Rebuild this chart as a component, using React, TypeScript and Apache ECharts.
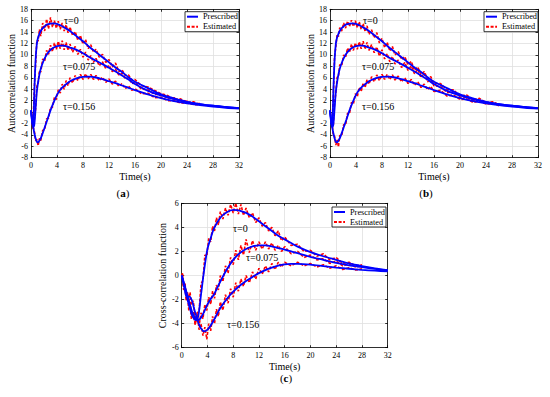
import React, { useEffect, useRef } from "react";
import * as echarts from "echarts";

const FONT = "Liberation Serif";

// ---------- Prescribed curves (a) & (b) ----------
const PT_AB = [0, 0.2, 0.35, 0.5, 0.7, 0.9, 1.1, 1.3, 1.5, 1.8, 2.1, 2.5, 3, 3.5, 4, 4.5, 5, 6, 7, 8, 9, 10, 11, 12, 13, 14, 15, 16, 18, 20, 22, 24, 26, 28, 30, 32];
const P_AB_0 = [0.3, -2.0, -2.6, 3.0, 9.0, 12.0, 13.1, 13.7, 14.2, 14.7, 15.0, 15.35, 15.5, 15.55, 15.45, 15.2, 14.9, 14.2, 13.3, 12.4, 11.4, 10.5, 9.6, 8.7, 7.8, 7.0, 6.1, 5.3, 4.2, 3.1, 2.4, 1.8, 1.4, 1.1, 0.9, 0.7];
const P_AB_075 = [0.3, -1.8, -2.6, -2.3, 0.5, 3.6, 5.3, 6.6, 7.6, 8.6, 9.4, 10.2, 10.9, 11.3, 11.55, 11.65, 11.65, 11.3, 10.9, 10.3, 9.6, 9.0, 8.4, 7.75, 7.1, 6.4, 5.7, 4.9, 3.7, 2.9, 2.25, 1.75, 1.4, 1.1, 0.85, 0.68];
const P_AB_156 = [0.3, -1.5, -2.7, -3.6, -4.6, -5.2, -5.3, -5.0, -4.6, -3.7, -2.7, -1.4, 0.3, 1.75, 3.0, 3.9, 4.5, 5.4, 5.9, 6.15, 6.2, 6.05, 5.75, 5.4, 5.05, 4.65, 4.25, 3.85, 3.1, 2.45, 1.9, 1.5, 1.2, 0.95, 0.75, 0.6];

// ---------- Estimated curves (a) & (b) ----------
const ET_AB = [0.1, 0.3, 0.5, 0.7, 0.9, 1.1, 1.3, 1.5, 1.8, 2.1, 2.4, 2.7, 3.0, 3.3, 3.6, 3.9, 4.2, 4.5, 4.8, 5.1, 5.4, 5.7, 6.0, 6.4, 6.8, 7.2, 7.6, 8.0, 8.4, 8.8, 9.2, 9.6, 10.0, 10.5, 11.0, 11.5, 12.0, 12.5, 13.0, 13.5, 14.0, 14.5, 15.0, 15.5, 16.0, 17, 18, 19, 20, 21, 22, 23, 24, 25, 26];
const E_A_0 = [-0.5, -2.8, 4.0, 8.2, 12.6, 12.4, 14.5, 13.3, 15.6, 14.2, 16.3, 14.6, 16.6, 14.9, 16.0, 14.7, 15.9, 14.5, 15.6, 14.2, 15.3, 13.9, 14.9, 13.4, 14.1, 12.6, 13.4, 11.9, 12.7, 11.1, 11.8, 10.5, 11.0, 9.6, 10.1, 8.7, 9.2, 7.9, 8.6, 7.1, 7.4, 6.4, 6.5, 5.6, 5.7, 4.6, 4.4, 3.8, 3.2, 2.9, 2.2, 2.3, 1.7, 1.8, 1.3];
const E_A_075 = [-0.4, -2.9, -1.5, 0.5, 4.5, 5.0, 7.3, 7.0, 9.3, 8.9, 10.8, 10.1, 11.7, 10.6, 12.1, 11.0, 12.4, 11.1, 12.5, 10.9, 12.2, 10.8, 11.9, 10.5, 11.5, 10.1, 11.0, 9.6, 10.5, 9.1, 9.9, 8.7, 9.4, 8.1, 8.8, 7.6, 8.2, 7.1, 7.5, 6.5, 6.8, 5.8, 6.0, 5.0, 5.2, 4.0, 3.9, 3.1, 3.1, 2.4, 2.5, 1.8, 1.9, 1.4, 1.5];
const E_A_156 = [-0.2, -2.7, -3.2, -5.0, -4.8, -5.9, -4.6, -5.0, -3.2, -3.1, -1.2, -1.1, 0.8, 0.8, 2.6, 2.2, 3.9, 3.3, 4.9, 4.0, 5.5, 4.6, 6.0, 5.1, 6.4, 5.5, 6.6, 5.7, 6.7, 5.8, 6.6, 5.7, 6.4, 5.5, 6.1, 5.2, 5.8, 4.9, 5.4, 4.5, 5.0, 4.1, 4.6, 3.8, 4.1, 3.2, 3.3, 2.5, 2.6, 2.0, 2.0, 1.6, 1.6, 1.3, 1.3];
const E_B_0 = [-1.3, -2.2, 2.4, 9.6, 11.5, 13.6, 13.2, 14.8, 14.2, 15.6, 14.7, 15.9, 15.0, 16.1, 15.0, 16.0, 14.8, 15.8, 14.5, 15.5, 14.1, 15.1, 13.6, 14.4, 13.0, 13.9, 12.1, 12.9, 11.3, 12.2, 10.7, 11.5, 10.0, 10.6, 9.2, 9.7, 8.3, 8.9, 7.3, 7.9, 6.6, 7.1, 5.8, 6.2, 5.0, 5.0, 3.9, 3.9, 2.8, 3.0, 2.1, 2.4, 1.6, 1.8, 1.3];
const E_B_075 = [-1.2, -2.2, -2.5, 1.6, 3.3, 6.1, 6.2, 8.3, 8.1, 10.0, 9.6, 11.2, 10.5, 11.9, 10.8, 12.1, 11.0, 12.3, 11.1, 12.4, 11.0, 12.2, 10.8, 11.8, 10.4, 11.4, 9.8, 10.9, 9.3, 10.2, 8.8, 9.7, 8.4, 9.1, 7.8, 8.7, 7.3, 8.1, 6.7, 7.5, 6.0, 6.8, 5.3, 5.8, 4.6, 4.5, 3.4, 3.6, 2.6, 2.6, 2.0, 2.1, 1.5, 1.6, 1.2];
const E_B_156 = [-1.0, -1.9, -4.0, -4.2, -5.8, -4.9, -6.1, -4.1, -4.2, -2.2, -2.3, -0.2, -0.3, 1.7, 1.4, 3.2, 2.7, 4.3, 3.6, 5.1, 4.3, 5.7, 4.9, 6.2, 5.3, 6.5, 5.5, 6.6, 5.7, 6.6, 5.7, 6.5, 5.6, 6.3, 5.3, 6.0, 5.0, 5.7, 4.7, 5.3, 4.3, 4.9, 3.9, 4.5, 3.6, 3.8, 2.8, 3.0, 2.2, 2.3, 1.7, 1.9, 1.4, 1.5, 1.1];

// ---------- Prescribed curves (c) ----------
const PT_C = [0, 0.4, 0.8, 1.2, 1.6, 2, 2.3, 2.6, 3, 3.5, 4, 4.5, 5, 6, 7, 8, 9, 10, 11, 12, 13, 14, 15, 16, 17, 18, 20, 22, 24, 26, 28, 30, 32];
const P_C_0 = [0, -0.8, -1.8, -2.6, -3.3, -3.65, -3.7, -3.3, -1.6, 0.5, 2.2, 3.1, 3.9, 4.8, 5.25, 5.45, 5.4, 5.2, 4.9, 4.5, 4.1, 3.7, 3.3, 3.0, 2.7, 2.4, 1.95, 1.6, 1.3, 1.0, 0.78, 0.6, 0.45];
const P_C_075 = [0, -0.7, -1.5, -2.3, -3.0, -3.45, -3.65, -3.7, -3.5, -3.0, -2.4, -1.95, -1.6, -0.5, 0.5, 1.3, 1.85, 2.2, 2.42, 2.5, 2.5, 2.42, 2.28, 2.15, 2.0, 1.85, 1.55, 1.3, 1.05, 0.85, 0.7, 0.55, 0.42];
const P_C_156 = [0, -1.0, -1.8, -1.75, -2.1, -2.9, -3.4, -3.95, -4.4, -4.65, -4.5, -4.15, -3.7, -2.7, -1.95, -1.35, -0.85, -0.45, -0.12, 0.2, 0.45, 0.65, 0.82, 0.92, 0.96, 0.96, 0.9, 0.78, 0.66, 0.56, 0.47, 0.4, 0.34];

// ---------- Estimated curves (c) ----------
const ET_C = [0.1, 0.3, 0.5, 0.7, 0.9, 1.1, 1.3, 1.5, 1.8, 2.1, 2.4, 2.7, 3.0, 3.3, 3.6, 3.9, 4.2, 4.5, 4.8, 5.1, 5.4, 5.7, 6.0, 6.4, 6.8, 7.2, 7.6, 8.0, 8.4, 8.8, 9.2, 9.6, 10.0, 10.5, 11.0, 11.5, 12.0, 12.5, 13.0, 13.5, 14.0, 14.5, 15.0, 15.5, 16.0, 17, 18, 19, 20, 21, 22, 23, 24, 25, 26, 27, 28];
const E_C_0 = [0.1, -0.9, -0.7, -1.9, -1.6, -2.9, -2.3, -3.6, -3.1, -4.1, -3.1, -3.0, -0.7, -0.4, 1.7, 1.6, 3.1, 2.8, 4.1, 3.7, 4.8, 4.2, 5.3, 4.7, 5.6, 5.0, 5.9, 5.2, 6.0, 5.1, 5.9, 5.0, 5.6, 4.8, 5.2, 4.4, 4.8, 4.1, 4.4, 3.7, 4.0, 3.3, 3.7, 2.9, 3.2, 2.5, 2.6, 2.0, 2.1, 1.6, 1.8, 1.3, 1.5, 1.0, 1.1, 0.8, 0.9];
const E_C_075 = [0.2, -0.9, -0.6, -1.7, -1.4, -2.5, -2.2, -3.3, -3.0, -4.0, -3.4, -4.2, -3.1, -3.6, -2.4, -2.9, -1.8, -2.4, -1.3, -1.9, -0.8, -1.2, 0.0, -0.5, 0.8, 0.2, 1.5, 0.9, 2.1, 1.3, 2.5, 1.7, 3.0, 1.9, 2.9, 2.1, 2.8, 2.2, 2.8, 2.2, 2.7, 2.1, 2.5, 2.0, 2.4, 1.8, 2.0, 1.5, 1.7, 1.3, 1.4, 1.0, 1.2, 0.8, 0.95, 0.7, 0.8];
const E_C_156 = [0.1, -1.2, -0.8, -2.1, -1.4, -2.2, -1.4, -2.4, -2.1, -3.5, -3.2, -4.5, -4.0, -5.0, -4.3, -5.3, -4.0, -4.6, -3.4, -4.0, -2.8, -3.4, -2.2, -2.9, -1.6, -2.3, -1.1, -1.8, -0.6, -1.3, -0.3, -0.9, 0.0, -0.6, 0.3, -0.3, 0.6, 0.1, 0.8, 0.3, 1.0, 0.5, 1.1, 0.7, 1.1, 0.8, 1.1, 0.8, 1.0, 0.7, 0.9, 0.6, 0.8, 0.5, 0.65, 0.45, 0.55];

const X_TICKS = { min: 0, max: 32, interval: 4 };
const Y_AB = { min: -8, max: 18, interval: 2 };
const Y_C = { min: -6, max: 6, interval: 2 };

const TAU_LABELS = ["τ=0", "τ=0.075", "τ=0.156"];
const PANEL_LABELS = ["a", "b", "c"];

const zip = (ts: number[], vs: number[]) => ts.map((t, i) => [t, vs[i]]);

const GRIDS = [
  { left: 31, top: 9.3, width: 208, height: 148.4 },
  { left: 330, top: 9.3, width: 208, height: 148.4 },
  { left: 181.7, top: 203.3, width: 206, height: 144.4 },
];

function buildOption() {
  const lineCol = "#000";
  const axisBase = (gridIndex: number, r: { min: number; max: number; interval: number }) => ({
    type: "value",
    gridIndex,
    min: r.min,
    max: r.max,
    interval: r.interval,
    axisLine: { show: true, onZero: false, lineStyle: { color: lineCol, width: 0.8 } },
    axisTick: { show: true, inside: true, length: 2.5, lineStyle: { color: lineCol, width: 0.8 } },
    splitLine: { show: false },
  });

  const xAxis: any[] = [];
  const yAxis: any[] = [];
  for (let g = 0; g < 3; g++) {
    xAxis.push({
      ...axisBase(g, X_TICKS),
      position: "bottom",
      splitLine: { show: true, lineStyle: { color: "#e0e0e0", width: 0.8 } },
      axisLabel: { color: "#000", fontSize: 8, fontFamily: FONT, margin: 4 },
      name: "Time(s)",
      nameLocation: "middle",
      nameGap: 14,
      nameTextStyle: { color: "#000", fontSize: 10, fontFamily: FONT },
    });
    yAxis.push({
      ...axisBase(g, g < 2 ? Y_AB : Y_C),
      position: "left",
      splitLine: { show: true, lineStyle: { color: "#e0e0e0", width: 0.8 } },
      axisLabel: { color: "#000", fontSize: 8, fontFamily: FONT, margin: 3 },
      name: g < 2 ? "Autocorrelation function" : "Cross-correlation function",
      nameLocation: "middle",
      nameGap: g < 2 ? 12 : 14,
      nameTextStyle: { color: "#000", fontSize: 10, fontFamily: FONT },
    });
  }
  for (let g = 0; g < 3; g++) {
    xAxis.push({ ...axisBase(g, X_TICKS), position: "top", axisLabel: { show: false } });
    yAxis.push({ ...axisBase(g, g < 2 ? Y_AB : Y_C), position: "right", axisLabel: { show: false } });
  }

  const pres = (g: number, ts: number[], vs: number[]) => ({
    type: "line",
    name: "Prescribed",
    xAxisIndex: g,
    yAxisIndex: g,
    data: zip(ts, vs),
    smooth: 0.3,
    symbol: "none",
    showSymbol: false,
    lineStyle: { color: "#0000ff", width: 1.8 },
    itemStyle: { color: "#0000ff" },
    z: 4,
  });
  const est = (g: number, ts: number[], vs: number[]) => ({
    type: "line",
    name: "Estimated",
    xAxisIndex: g,
    yAxisIndex: g,
    data: zip(ts, vs),
    symbol: "none",
    showSymbol: false,
    lineStyle: { color: "#ff0000", width: 1.6, type: [3, 1.6] },
    itemStyle: { color: "#ff0000" },
    z: 3,
  });

  const series = [
    pres(0, PT_AB, P_AB_0), pres(0, PT_AB, P_AB_075), pres(0, PT_AB, P_AB_156),
    est(0, ET_AB, E_A_0), est(0, ET_AB, E_A_075), est(0, ET_AB, E_A_156),
    pres(1, PT_AB, P_AB_0), pres(1, PT_AB, P_AB_075), pres(1, PT_AB, P_AB_156),
    est(1, ET_AB, E_B_0), est(1, ET_AB, E_B_075), est(1, ET_AB, E_B_156),
    pres(2, PT_C, P_C_0), pres(2, PT_C, P_C_075), pres(2, PT_C, P_C_156),
    est(2, ET_C, E_C_0), est(2, ET_C, E_C_075), est(2, ET_C, E_C_156),
  ];

  const legendPos = [
    { left: 185, top: 11.7 },
    { left: 484, top: 11.7 },
    { left: 332, top: 207 },
  ];
  const legend = legendPos.map((p) => ({
    ...p,
    orient: "vertical",
    data: ["Prescribed", "Estimated"],
    itemWidth: 11,
    itemHeight: 8,
    itemGap: 2,
    padding: [1, 1, 1, 1],
    borderColor: "#000",
    borderWidth: 0.8,
    borderRadius: 0,
    backgroundColor: "#fff",
    itemStyle: { color: "rgba(0,0,0,0)", borderColor: "rgba(0,0,0,0)", borderWidth: 0, opacity: 0 },
    textStyle: { fontSize: 8.3, fontFamily: FONT, color: "#000" },
    selectedMode: false,
    z: 10,
  }));

  const tauPos = [
    [[64, 20], [63, 66], [63, 106.5]],
    [[363, 20], [362, 66], [362, 106.5]],
    [[233, 228.3], [246, 257.5], [227, 324.5]],
  ];
  const graphic: any[] = [];
  tauPos.forEach((panel) =>
    panel.forEach((pos, i) =>
      graphic.push({
        type: "text",
        x: pos[0],
        y: pos[1],
        z: 20,
        style: {
          text: TAU_LABELS[i],
          fill: "#000",
          font: `10px ${FONT}`,
          align: "left",
          verticalAlign: "middle",
        },
      })
    )
  );
  const panelPos = [[123, 193], [426, 193], [286, 378]];
  panelPos.forEach((pos, i) =>
    graphic.push({
      type: "text",
      x: pos[0],
      y: pos[1],
      z: 20,
      style: {
        text: `({b|${PANEL_LABELS[i]}})`,
        fill: "#000",
        font: `11px ${FONT}`,
        align: "center",
        verticalAlign: "middle",
        rich: { b: { fontWeight: "bold", fontSize: 11, fontFamily: FONT, fill: "#000" } },
      },
    })
  );

  return {
    animation: false,
    backgroundColor: "#fff",
    textStyle: { fontFamily: FONT },
    grid: GRIDS.map((g) => ({ ...g, containLabel: false, show: false })),
    xAxis,
    yAxis,
    legend,
    series,
    graphic,
  };
}

export default function App() {
  const ref = useRef<HTMLDivElement>(null);
  useEffect(() => {
    if (!ref.current) return;
    const chart = echarts.init(ref.current, null, { renderer: "svg" });
    chart.setOption(buildOption() as any);
    return () => chart.dispose();
  }, []);
  return (
    <div
      ref={ref}
      style={{ position: "absolute", left: 0, top: 0, width: 550, height: 397, background: "#fff" }}
    />
  );
}
